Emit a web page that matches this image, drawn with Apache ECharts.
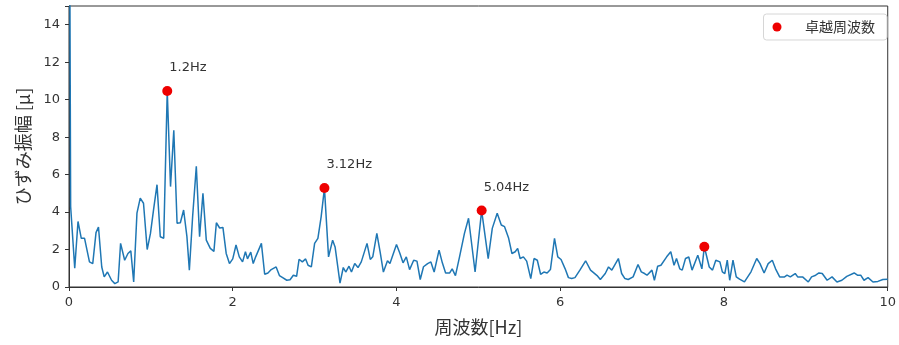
<!DOCTYPE html>
<html>
<head>
<meta charset="utf-8">
<script src="https://cdn.jsdelivr.net/npm/echarts@6/dist/echarts.min.js"></script>
<style>
html,body{margin:0;padding:0;background:#fff;}
#chart{width:899px;height:345px;}
</style>
</head>
<body>
<div id="chart"></div>
<script>
// spectrum: frequency [Hz] and amplitude [μ]
const freq = [0,0.02,0.07,0.11,0.15,0.19,0.25,0.29,0.33,0.36,0.40,0.43,0.47,0.52,0.56,0.60,0.63,0.68,0.72,0.755,0.79,0.83,0.87,0.91,0.955,0.995,1.035,1.075,1.115,1.157,1.2,1.24,1.28,1.32,1.36,1.40,1.44,1.47,1.51,1.555,1.595,1.636,1.677,1.726,1.77,1.80,1.84,1.88,1.92,1.96,2.00,2.04,2.08,2.12,2.155,2.18,2.22,2.25,2.28,2.35,2.39,2.43,2.47,2.53,2.57,2.61,2.66,2.70,2.74,2.78,2.81,2.85,2.89,2.92,2.96,3.00,3.04,3.08,3.12,3.17,3.22,3.25,3.31,3.35,3.38,3.42,3.45,3.49,3.53,3.57,3.64,3.68,3.71,3.76,3.80,3.84,3.89,3.92,4.00,4.04,4.08,4.12,4.16,4.21,4.25,4.29,4.33,4.38,4.42,4.46,4.52,4.56,4.60,4.65,4.68,4.72,4.77,4.83,4.88,4.96,5.04,5.12,5.17,5.23,5.28,5.32,5.37,5.41,5.45,5.48,5.51,5.55,5.59,5.64,5.68,5.72,5.76,5.80,5.84,5.88,5.93,5.97,6.01,6.06,6.10,6.14,6.18,6.24,6.31,6.37,6.45,6.49,6.55,6.59,6.63,6.71,6.75,6.79,6.83,6.89,6.95,6.99,7.03,7.06,7.12,7.15,7.19,7.23,7.30,7.35,7.39,7.42,7.46,7.49,7.53,7.57,7.61,7.68,7.73,7.76,7.82,7.86,7.90,7.95,7.98,8.01,8.04,8.07,8.11,8.15,8.19,8.25,8.33,8.40,8.44,8.49,8.54,8.59,8.63,8.68,8.74,8.77,8.81,8.87,8.90,8.96,9.03,9.07,9.12,9.16,9.20,9.26,9.32,9.38,9.44,9.50,9.59,9.63,9.67,9.71,9.76,9.82,9.88,9.94,10.0];
const amp = [30,4.3,1.0,3.5,2.6,2.6,1.34,1.25,2.9,3.2,1.07,0.54,0.8,0.36,0.18,0.27,2.33,1.43,1.79,1.93,0.27,3.94,4.74,4.47,2.0,2.86,4.2,5.46,2.68,2.6,10.46,5.36,8.37,3.4,3.43,4.11,2.7,0.9,3.76,6.44,2.68,5.0,2.5,2.06,1.9,3.43,3.15,3.18,1.79,1.25,1.5,2.24,1.61,1.34,1.88,1.5,1.86,1.25,1.61,2.33,0.68,0.75,0.93,1.07,0.61,0.5,0.36,0.39,0.63,0.57,1.48,1.34,1.5,1.16,1.07,2.33,2.6,3.76,5.28,1.61,2.5,2.14,0.21,1.04,0.8,1.11,0.8,1.25,1.04,1.34,2.33,1.47,1.61,2.86,1.88,0.8,1.4,1.25,2.27,1.82,1.29,1.61,0.93,1.43,1.38,0.4,1.08,1.25,1.34,0.8,1.97,1.29,0.75,0.75,0.97,0.61,1.61,2.86,3.67,0.8,4.08,1.52,3.13,3.94,3.31,3.22,2.6,1.79,1.88,2.06,1.52,1.61,1.38,0.45,1.52,1.43,0.68,0.8,0.75,0.93,2.6,1.61,1.47,0.97,0.5,0.45,0.5,0.9,1.4,0.9,0.61,0.4,0.72,1.07,0.9,1.52,0.72,0.45,0.4,0.54,1.2,0.81,0.72,0.63,0.9,0.36,1.11,1.16,1.61,1.88,1.16,1.52,0.97,0.9,1.52,1.6,0.9,1.7,0.97,2.15,1.07,0.9,1.43,1.34,0.81,0.72,1.43,0.36,1.43,0.54,0.42,0.27,0.81,1.52,1.25,0.75,1.25,1.43,0.97,0.54,0.54,0.63,0.54,0.72,0.54,0.54,0.27,0.54,0.63,0.75,0.72,0.36,0.54,0.27,0.36,0.57,0.75,0.63,0.63,0.36,0.5,0.27,0.3,0.4,0.42];

// dominant frequencies (卓越周波数)
const peakFreq = [1.2, 3.12, 5.04, 7.76];
const peakAmp = [10.46, 5.28, 4.08, 2.15];
const peakLabel = ['1.2Hz', '3.12Hz', '5.04Hz', ''];

const xTicks = [0, 2, 4, 6, 8, 10];
const yTicks = [0, 2, 4, 6, 8, 10, 12, 14];

const lineData = freq.map((f, i) => [f, amp[i]]);
const peakData = peakFreq.map((f, i) => ({ value: [f, peakAmp[i]], name: peakLabel[i] }));

const chart = echarts.init(document.getElementById('chart'), null, { renderer: 'canvas' });
const tickFont = { fontFamily: 'DejaVu Sans', fontSize: 13, color: '#333' };
const cjk = '"Noto Sans CJK JP", "Noto Sans", sans-serif';

chart.setOption({
  animation: false,
  backgroundColor: '#fff',
  grid: { left: 69, right: 8, top: 6, bottom: 58, show: true, borderColor: '#333', borderWidth: 1, backgroundColor: 'transparent' },
  legend: {
    data: ['卓越周波数'],
    right: 12, top: 14,
    orient: 'horizontal',
    backgroundColor: '#fff',
    borderColor: '#d6d6d6', borderWidth: 1, borderRadius: 3,
    padding: [6, 12, 6, 9],
    itemWidth: 20, itemHeight: 9,
    icon: 'circle',
    textStyle: { fontFamily: cjk, fontSize: 14, color: '#333', padding: [0, 0, 0, 13] }
  },
  xAxis: {
    type: 'value', min: 0, max: 10, interval: 2,
    name: '周波数[Hz]', nameLocation: 'middle', nameGap: 31,
    nameTextStyle: { fontFamily: cjk, fontSize: 18, color: '#333' },
    axisLine: { show: true, lineStyle: { color: '#333', width: 1 } },
    axisTick: { show: true, inside: false, length: 4, lineStyle: { color: '#333' } },
    axisLabel: Object.assign({ margin: 9, formatter: v => xTicks.includes(v) ? String(v) : '' }, tickFont),
    splitLine: { show: false }
  },
  yAxis: {
    type: 'value', min: 0, max: 15, interval: 2,
    name: 'ひずみ振幅 [μ]', nameLocation: 'middle', nameGap: 37, nameRotate: 90,
    nameTextStyle: { fontFamily: cjk, fontSize: 18, color: '#333' },
    axisLine: { show: true, lineStyle: { color: '#333', width: 1 } },
    axisTick: { show: true, inside: false, length: 4, lineStyle: { color: '#333' } },
    axisLabel: Object.assign({ margin: 9, formatter: v => yTicks.includes(v) ? String(v) : '' }, tickFont),
    splitLine: { show: false }
  },
  series: [
    {
      type: 'line', name: 'spectrum', data: lineData,
      showSymbol: false, symbol: 'none', clip: true,
      lineStyle: { color: '#1f77b4', width: 1.5 },
      z: 2
    },
    {
      type: 'scatter', name: '卓越周波数', data: peakData,
      symbol: 'circle', symbolSize: 10,
      itemStyle: { color: '#ee0000', opacity: 1 },
      label: {
        show: true, formatter: p => p.name,
        position: [7, -18], align: 'left', verticalAlign: 'middle',
        fontFamily: 'DejaVu Sans', fontSize: 13, color: '#333'
      },
      z: 3
    }
  ]
});
</script>
</body>
</html>
